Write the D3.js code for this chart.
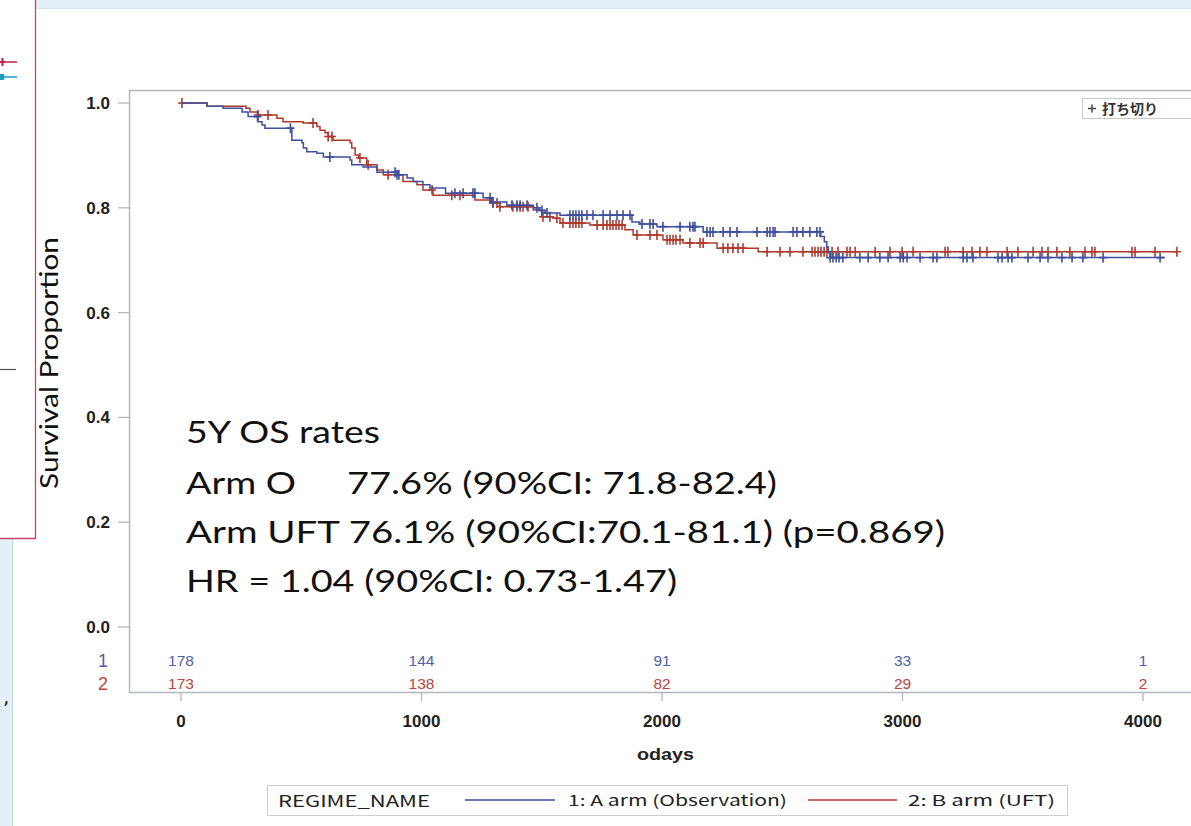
<!DOCTYPE html>
<html>
<head>
<meta charset="utf-8">
<script src="https://cdn.jsdelivr.net/npm/d3@7"></script>
<style>
body { margin: 0; background: #fff; }
svg { display: block; }
</style>
</head>
<body>
<svg id="chart" width="1191" height="826"></svg>
<script>
// Kaplan-Meier steps (days, survival proportion)
var armATime = [0, 108, 175, 254, 279, 320, 337, 349, 461, 503, 509, 523, 565, 592, 703, 710, 757, 815, 898, 940, 965, 1006, 1035, 1100, 1256, 1292, 1355, 1465, 1490, 1514, 1576, 1875, 1908, 1979, 2171, 2660, 2675, 2685, 2692, 2698];
var armASurv = [1, 0.994, 0.99, 0.983, 0.974, 0.964, 0.958, 0.952, 0.929, 0.924, 0.914, 0.907, 0.904, 0.897, 0.891, 0.882, 0.878, 0.868, 0.863, 0.857, 0.85, 0.844, 0.838, 0.828, 0.819, 0.811, 0.805, 0.8, 0.795, 0.79, 0.786, 0.773, 0.769, 0.764, 0.754, 0.745, 0.735, 0.725, 0.715, 0.705];
var armAEnd = 4091;
var armACensor = [318, 455, 619, 890, 898, 906, 1139, 1173, 1214, 1222, 1285, 1297, 1376, 1397, 1410, 1439, 1480, 1501, 1522, 1617, 1630, 1642, 1655, 1667, 1688, 1713, 1755, 1784, 1813, 1838, 1867, 1917, 1950, 1963, 2004, 2075, 2116, 2129, 2137, 2187, 2200, 2212, 2254, 2283, 2312, 2395, 2437, 2449, 2462, 2470, 2545, 2561, 2586, 2615, 2644, 2657, 2699, 2711, 2724, 2736, 2752, 2823, 2857, 2906, 2940, 2990, 3003, 3019, 3073, 3127, 3143, 3252, 3268, 3293, 3397, 3414, 3439, 3455, 3522, 3572, 3605, 3663, 3705, 3750, 3834, 4071];

var armBTime = [0, 108, 270, 287, 320, 399, 424, 508, 565, 578, 599, 612, 632, 703, 710, 724, 738, 772, 815, 841, 923, 981, 1006, 1048, 1222, 1285, 1326, 1465, 1500, 1547, 1576, 1700, 1846, 1880, 2004, 2087, 2229, 2400];
var armBSurv = [1, 0.994, 0.99, 0.983, 0.977, 0.971, 0.964, 0.962, 0.955, 0.948, 0.943, 0.936, 0.929, 0.924, 0.914, 0.901, 0.895, 0.882, 0.872, 0.863, 0.85, 0.844, 0.834, 0.824, 0.815, 0.809, 0.802, 0.796, 0.783, 0.78, 0.771, 0.767, 0.758, 0.748, 0.739, 0.733, 0.723, 0.716];
var armBEnd = 4141;
var armBCensor = [4, 320, 362, 549, 612, 628, 744, 778, 861, 1044, 1126, 1160, 1297, 1314, 1326, 1380, 1397, 1410, 1422, 1443, 1505, 1534, 1563, 1588, 1617, 1630, 1642, 1655, 1667, 1730, 1755, 1771, 1784, 1796, 1809, 1821, 1834, 1896, 1950, 1979, 2021, 2033, 2046, 2058, 2075, 2116, 2158, 2171, 2254, 2274, 2295, 2316, 2337, 2437, 2491, 2532, 2586, 2624, 2636, 2649, 2661, 2674, 2686, 2707, 2732, 2769, 2782, 2803, 2886, 2948, 2998, 3044, 3177, 3189, 3252, 3289, 3322, 3351, 3435, 3480, 3543, 3580, 3605, 3642, 3696, 3759, 3788, 3800, 3954, 3967, 4050, 4141];

// numbers at risk
var riskDays = [0, 1000, 2000, 3000, 4000];
var riskA = [178, 144, 91, 33, 1];
var riskB = [173, 138, 82, 29, 2];

var xTicks = [0, 1000, 2000, 3000, 4000];
var yTicks = [0, 0.2, 0.4, 0.6, 0.8, 1.0];

var blue = "#3e4f9e";
var red = "#b0382d";
var tickFont = "Liberation Sans, Arial, sans-serif";

var svg = d3.select("#chart");

// leftovers of the slide around the chart
svg.append("rect").attr("x", 35).attr("y", 0).attr("width", 1156).attr("height", 8).attr("fill", "#e4f0f8");
svg.append("line").attr("x1", 35).attr("x2", 1191).attr("y1", 8.5).attr("y2", 8.5).attr("stroke", "#d5e3ec");
svg.append("rect").attr("x", 0).attr("y", 539).attr("width", 12).attr("height", 287).attr("fill", "#e4f0f8");
svg.append("line").attr("x1", 12.5).attr("x2", 12.5).attr("y1", 539).attr("y2", 826).attr("stroke", "#c8d3da");
svg.append("path").attr("d", "M35.5,0V538.5H0").attr("fill", "none").attr("stroke", "#c9436a").attr("stroke-width", 1.3);
svg.append("line").attr("x1", 0).attr("x2", 17).attr("y1", 62).attr("y2", 62).attr("stroke", "#c0204a").attr("stroke-width", 1.5);
svg.append("path").attr("d", "M0,62H5M2.5,58V66").attr("stroke", "#c0204a").attr("stroke-width", 2);
svg.append("line").attr("x1", 0).attr("x2", 17).attr("y1", 77).attr("y2", 77).attr("stroke", "#1d9cc6").attr("stroke-width", 1.5);
svg.append("rect").attr("x", 0).attr("y", 74).attr("width", 4).attr("height", 6).attr("fill", "#1d9cc6");
svg.append("line").attr("x1", 0).attr("x2", 16).attr("y1", 369.5).attr("y2", 369.5).attr("stroke", "#555").attr("stroke-width", 1.2);
svg.append("text").attr("x", 3).attr("y", 704).attr("font-family", "DejaVu Sans").attr("font-size", 20).attr("fill", "#222").text(",");

// scales
var xScale = d3.scaleLinear().domain([0, 4000]).range([181, 1143]);
var yScale = d3.scaleLinear().domain([0, 1]).range([627, 103]);

// frame
var frameCol = "#b4b8bc";
svg.append("path")
	.attr("d", "M1195,90.5H129.5V692.5H1195")
	.attr("fill", "none").attr("stroke", frameCol).attr("stroke-width", 1.5);

// y axis ticks
var yAxis = svg.append("g").attr("class", "y axis");
yAxis.selectAll("line").data(yTicks).enter().append("line")
	.attr("x1", 118).attr("x2", 129)
	.attr("y1", d => yScale(d)).attr("y2", d => yScale(d))
	.attr("stroke", frameCol).attr("stroke-width", 1.3);
yAxis.selectAll("text").data(yTicks).enter().append("text")
	.attr("x", 110).attr("y", d => yScale(d) + 6)
	.attr("text-anchor", "end")
	.attr("font-family", tickFont).attr("font-weight", "bold").attr("font-size", 17)
	.attr("fill", "#222")
	.text(d => d3.format(".1f")(d));

// x axis ticks
var xAxis = svg.append("g").attr("class", "x axis");
xAxis.selectAll("line").data(xTicks).enter().append("line")
	.attr("x1", d => xScale(d)).attr("x2", d => xScale(d))
	.attr("y1", 692).attr("y2", 701)
	.attr("stroke", frameCol).attr("stroke-width", 1.3);
xAxis.selectAll("text").data(xTicks).enter().append("text")
	.attr("x", d => xScale(d)).attr("y", 727)
	.attr("text-anchor", "middle")
	.attr("font-family", tickFont).attr("font-weight", "bold").attr("font-size", 17)
	.attr("fill", "#222")
	.text(d => d);

svg.append("text")
	.attr("x", 637).attr("y", 760)
	.attr("textLength", 57).attr("lengthAdjust", "spacingAndGlyphs")
	.attr("font-family", tickFont).attr("font-weight", "bold").attr("font-size", 17)
	.attr("fill", "#222")
	.text("odays");

svg.append("text")
	.attr("transform", "translate(58,363) rotate(-90)")
	.attr("x", -126)
	.attr("textLength", 252).attr("lengthAdjust", "spacingAndGlyphs")
	.attr("font-family", "Lato").attr("font-size", 25)
	.attr("fill", "#111")
	.text("Survival Proportion");

// KM curves
function stepPoints(times, survs, end) {
	var pts = times.map((t, i) => [t, survs[i]]);
	pts.push([end, survs[survs.length - 1]]);
	return pts;
}
function survAt(times, survs, t) {
	var i = d3.bisectRight(times, t) - 1;
	return survs[Math.max(i, 0)];
}

var line = d3.line()
	.x(d => xScale(d[0]))
	.y(d => yScale(d[1]))
	.curve(d3.curveStepAfter);

var arms = [
	{ time: armBTime, surv: armBSurv, end: armBEnd, censor: armBCensor, color: red },
	{ time: armATime, surv: armASurv, end: armAEnd, censor: armACensor, color: blue }
];

arms.forEach(function(arm) {
	svg.append("path")
		.attr("d", line(stepPoints(arm.time, arm.surv, arm.end)))
		.attr("fill", "none")
		.attr("stroke", arm.color)
		.attr("stroke-width", 1.5);

	svg.append("g").selectAll("path")
		.data(arm.censor)
		.enter()
		.append("path")
		.attr("d", function(t) {
			var cx = xScale(t), cy = yScale(survAt(arm.time, arm.surv, t));
			return "M" + (cx - 4) + "," + cy + "H" + (cx + 4) + "M" + cx + "," + (cy - 5) + "V" + (cy + 5);
		})
		.attr("stroke", arm.color)
		.attr("stroke-width", 1.6);
});

// censor legend, top right
svg.append("rect")
	.attr("x", 1082.5).attr("y", 98.5).attr("width", 130).attr("height", 20)
	.attr("fill", "#fff").attr("stroke", "#c8c8c8");
svg.append("path")
	.attr("d", "M1088,108.5H1096M1092,104.5V112.5")
	.attr("stroke", "#444").attr("stroke-width", 1.5);
svg.append("text")
	.attr("x", 1102).attr("y", 114)
	.attr("font-family", "Noto Sans CJK JP").attr("font-size", 14).attr("font-weight", "bold")
	.attr("fill", "#333")
	.text("打ち切り");

// numbers at risk
var riskRows = [
	{ label: "1", values: riskA, color: "#4f5fa8", y: 666 },
	{ label: "2", values: riskB, color: "#b8463c", y: 689 }
];
riskRows.forEach(function(row) {
	svg.append("text")
		.attr("x", 103).attr("y", row.y + 1)
		.attr("text-anchor", "middle")
		.attr("font-family", tickFont).attr("font-size", 18)
		.attr("fill", row.color)
		.text(row.label);
	svg.append("g").selectAll("text")
		.data(row.values)
		.enter()
		.append("text")
		.attr("x", (d, i) => xScale(riskDays[i]))
		.attr("y", row.y)
		.attr("text-anchor", "middle")
		.attr("font-family", tickFont).attr("font-size", 15.5)
		.attr("fill", row.color)
		.text(d => d);
});

// annotation
var noteLines = [
	{ text: "5Y OS rates", x: 186, y: 443, w: 194 },
	{ text: "Arm O", x: 186, y: 494, w: 110 },
	{ text: "77.6% (90%CI: 71.8-82.4)", x: 347, y: 494, w: 430 },
	{ text: "Arm UFT 76.1% (90%CI:70.1-81.1) (p=0.869)", x: 186, y: 543, w: 759 },
	{ text: "HR = 1.04 (90%CI: 0.73-1.47)", x: 186, y: 592, w: 491 }
];
svg.append("g").selectAll("text")
	.data(noteLines)
	.enter()
	.append("text")
	.attr("x", d => d.x).attr("y", d => d.y)
	.attr("textLength", d => d.w)
	.attr("lengthAdjust", "spacingAndGlyphs")
	.attr("font-family", "Lato").attr("font-size", 31)
	.attr("fill", "#111")
	.text(d => d.text);

// bottom legend
var legend = svg.append("g");
legend.append("rect")
	.attr("x", 267.5).attr("y", 785.5).attr("width", 800).attr("height", 30)
	.attr("fill", "#fff").attr("stroke", "#cfcfcf");
legend.append("text")
	.attr("x", 278).attr("y", 807).attr("textLength", 152).attr("lengthAdjust", "spacingAndGlyphs")
	.attr("font-family", "Noto Sans CJK JP").attr("font-size", 16).attr("fill", "#222")
	.text("REGIME_NAME");
legend.append("line").attr("x1", 465).attr("x2", 555).attr("y1", 800).attr("y2", 800).attr("stroke", blue).attr("stroke-width", 1.5);
legend.append("text")
	.attr("x", 568).attr("y", 806).attr("textLength", 219).attr("lengthAdjust", "spacingAndGlyphs")
	.attr("font-family", "Noto Sans CJK JP").attr("font-size", 15).attr("fill", "#222")
	.text("1: A arm (Observation)");
legend.append("line").attr("x1", 808).attr("x2", 897).attr("y1", 800).attr("y2", 800).attr("stroke", red).attr("stroke-width", 1.5);
legend.append("text")
	.attr("x", 908).attr("y", 806).attr("textLength", 147).attr("lengthAdjust", "spacingAndGlyphs")
	.attr("font-family", "Noto Sans CJK JP").attr("font-size", 15).attr("fill", "#222")
	.text("2: B arm (UFT)");
</script>
</body>
</html>
